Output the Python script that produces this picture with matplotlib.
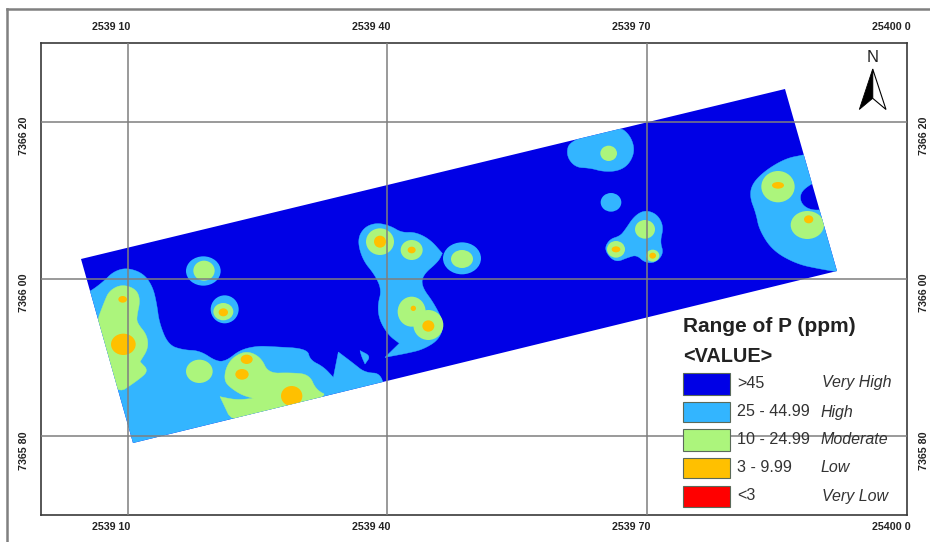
import matplotlib
matplotlib.use("Agg")
import matplotlib.pyplot as plt
from matplotlib.patches import Ellipse, Polygon, Rectangle

plt.rcParams['font.family'] = ['Liberation Sans', 'DejaVu Sans']

W, H = 930, 542
FRAME = (41, 907, 43, 515)
XLIM = (253900, 254000)
YLIM = (736570, 736630)

x_ticks = [253910, 253940, 253970, 254000]
x_tick_labels = ["2539 10", "2539 40", "2539 70", "25400 0"]
y_ticks = [736620, 736600, 736580]
y_tick_labels = ["7366 20", "7366 00", "7365 80"]

classes = [">45", "25 - 44.99", "10 - 24.99", "3 - 9.99", "<3"]
ratings = ["Very High", "High", "Moderate", "Low", "Very Low"]
colors = ["#0000E6", "#33B5FF", "#ACF57C", "#FFC000", "#FF0000"]
DARK, BLUE, GREEN, ORANGE, RED = colors

west_origin = (60, 220)
east_origin = (540, 60)
field_px = [(81, 259), (785, 89), (837, 271), (133, 443)]

west_polys = [
    (BLUE, [(60, 225), (90, 215), (130, 185), (160, 155), (200, 143), (250, 160), (278, 200), (290, 250), (298, 310),
            (325, 375), (370, 390), (420, 392), (470, 425), (500, 422), (540, 390), (590, 378), (640, 380),
            (742, 386), (750, 420), (790, 440), (820, 472), (820, 472), (835, 396), (835, 396), (880, 430),
            (915, 458), (965, 460), (975, 530), (975, 530), (170, 760), (170, 760), (70, 340)]),
    (BLUE, [(900, 392), (900, 392), (932, 408), (915, 432), (915, 432), (905, 410)]),
    (BLUE, [(892, 60), (912, 22), (950, 8), (992, 18), (1025, 38), (1065, 36), (1110, 58), (1147, 100), (1147, 100),
            (1135, 125), (1088, 165), (1085, 200), (1122, 250), (1152, 310), (1138, 358), (1090, 388),
            (1040, 400), (975, 412), (975, 412), (1018, 370), (1018, 370), (985, 345), (958, 300), (953, 255), (965, 210),
            (945, 165), (908, 120)]),
    (GREEN, [(133, 245), (148, 212), (185, 193), (228, 207), (241, 240), (230, 290), (232, 310), (261, 345),
             (265, 385), (240, 425), (240, 425), (266, 452), (235, 480), (160, 530), (105, 320)]),
    (GREEN, [(493, 482), (497, 445), (518, 412), (560, 392), (603, 412), (625, 460), (690, 458), (748, 463),
             (768, 510), (810, 530), (525, 625), (480, 530), (480, 530), (530, 540), (580, 535), (580, 535), (545, 525), (510, 502)]),
]
east_polys = [
    (BLUE, [(78, 285), (90, 240), (235, 198), (270, 225), (285, 270), (268, 312), (235, 333), (190, 335),
            (150, 324), (105, 322)]),
    (BLUE, [(255, 510), (283, 468), (315, 450), (352, 463), (371, 500), (360, 545), (371, 580), (347, 608),
            (315, 608), (290, 585), (265, 592), (225, 608), (192, 570), (208, 538), (240, 528)]),
    (BLUE, [(830, 275), (790, 285), (738, 295), (678, 330), (637, 370), (629, 410), (648, 460), (658, 510), (698, 572),
            (770, 612), (840, 627), (920, 640), (920, 640), (865, 447), (815, 452), (783, 432), (780, 398), (815, 370), (845, 362)]),
]
# colour, centre x, centre y, half-width, half-height (crop units)
west_blobs = [
    (BLUE, 430, 153, 52, 44), (BLUE, 494, 268, 42, 42), (BLUE, 1206, 115, 57, 48),
    (GREEN, 432, 152, 32, 30), (GREEN, 490, 275, 30, 26), (GREEN, 418, 454, 40, 35),
    (GREEN, 960, 65, 42, 40), (GREEN, 1055, 90, 33, 30), (GREEN, 1206, 117, 33, 27),
    (GREEN, 1055, 275, 42, 45), (GREEN, 1105, 315, 45, 45),
    (ORANGE, 190, 373, 37, 32), (ORANGE, 188, 238, 13, 10), (ORANGE, 490, 277, 14, 12),
    (ORANGE, 560, 418, 18, 14), (ORANGE, 546, 463, 20, 16), (ORANGE, 695, 528, 32, 30),
    (ORANGE, 960, 65, 18, 18), (ORANGE, 1055, 90, 12, 10), (ORANGE, 1105, 318, 18, 17),
    (ORANGE, 1060, 265, 8, 8),
]
east_blobs = [
    (BLUE, 213, 427, 31, 28),
    (GREEN, 206, 280, 25, 23), (GREEN, 315, 508, 30, 28), (GREEN, 228, 568, 27, 25), (GREEN, 338, 587, 20, 18),
    (GREEN, 714, 380, 50, 47), (GREEN, 802, 495, 50, 42),
    (ORANGE, 228, 568, 13, 9), (ORANGE, 338, 587, 10, 9), (ORANGE, 714, 376, 18, 10), (ORANGE, 806, 478, 14, 12),
]

legend_boxes = [(373, 395), (402, 422), (429, 451), (458, 478), (486, 507)]
legend_text_y = [383, 412, 440, 468, 496]
rating_x = [822, 820, 820, 820, 822]

sx = (XLIM[1] - XLIM[0]) / (FRAME[1] - FRAME[0])
sy = (YLIM[1] - YLIM[0]) / (FRAME[3] - FRAME[2])


def px2map(px, py):
    return XLIM[0] + (px - FRAME[0]) * sx, YLIM[1] - (py - FRAME[2]) * sy


def crop2map(origin, x, y):
    return px2map(origin[0] + x / 3, origin[1] + y / 3)


def rounded(pts, passes=3):
    # corner cutting, so the read outlines look like the smooth class boundaries
    for _ in range(passes):
        out = []
        for i, (x0, y0) in enumerate(pts):
            x1, y1 = pts[(i + 1) % len(pts)]
            out.append((0.75 * x0 + 0.25 * x1, 0.75 * y0 + 0.25 * y1))
            out.append((0.25 * x0 + 0.75 * x1, 0.25 * y0 + 0.75 * y1))
        pts = out
    return pts


fig = plt.figure(figsize=(W / 100, H / 100), dpi=100, facecolor="white")
ax = fig.add_axes([FRAME[0] / W, 1 - FRAME[3] / H, (FRAME[1] - FRAME[0]) / W, (FRAME[3] - FRAME[2]) / H])
ax.set_xlim(*XLIM)
ax.set_ylim(*YLIM)
ax.set_xticks([])
ax.set_yticks([])
for s in ax.spines.values():
    s.set_color("#3a3a3a")
    s.set_linewidth(1.2)

field = Polygon([px2map(*p) for p in field_px], closed=True, fc=DARK, ec="none", zorder=1)
ax.add_patch(field)

z = 2
for color in [BLUE, GREEN, ORANGE]:
    for origin, polys, blobs in [(west_origin, west_polys, west_blobs), (east_origin, east_polys, east_blobs)]:
        for c, pts in polys:
            if c == color:
                p = Polygon([crop2map(origin, *q) for q in rounded(pts)], closed=True, fc=c, ec=c, lw=0.3, zorder=z)
                ax.add_patch(p)
                p.set_clip_path(field)
        for c, cx, cy, rx, ry in blobs:
            if c == color:
                e = Ellipse(crop2map(origin, cx, cy), 2 * rx / 3 * sx, 2 * ry / 3 * sy, fc=c, ec="none", zorder=z)
                ax.add_patch(e)
                e.set_clip_path(field)
    z += 1

# graticule
for v in x_ticks[:-1]:
    ax.axvline(v, color="#7f7f7f", lw=1.1, zorder=6)
for v in y_ticks:
    ax.axhline(v, color="#7f7f7f", lw=1.1, zorder=6)


def ftext(px, py, s, **kw):
    kw.setdefault("ha", "left")
    kw.setdefault("va", "center")
    return fig.text(px / W, 1 - py / H, s, zorder=10, **kw)


# tick labels sit beside their grid lines, as on the source map
for v, lab in zip(x_ticks, x_tick_labels):
    px = FRAME[0] + (v - XLIM[0]) / sx
    for py in (27, 527):
        ftext(px - 16, py, lab, ha="center", fontsize=7.7, color="#222222", fontweight="bold")
for v, lab in zip(y_ticks, y_tick_labels):
    py = FRAME[2] + (YLIM[1] - v) / sy
    for px in (24, 924):
        ftext(px, py + 14, lab, ha="center", rotation=90, fontsize=7.7, color="#222222", fontweight="bold")

# legend
ftext(683, 327, "Range of P (ppm)", fontsize=15, fontweight="bold", color="#222222")
ftext(683, 356, "<VALUE>", fontsize=14.3, fontweight="bold", color="#222222")
for (t, b), col, lab, rat, ty, rx in zip(legend_boxes, colors, classes, ratings, legend_text_y, rating_x):
    x0, y0 = px2map(683, b)
    x1, y1 = px2map(730, t)
    ax.add_patch(Rectangle((x0, y0), x1 - x0, y1 - y0, fc=col, ec="#5a6a5a", lw=0.8, zorder=7))
    ftext(737, ty, lab, fontsize=11.6, color="#333333")
    ftext(rx, ty, rat, fontsize=11.5, style="italic", color="#333333")

# north arrow
ftext(873, 58, "N", ha="center", fontsize=12, color="#222222")
tip, left, mid, right = px2map(872.7, 69), px2map(859.3, 109.5), px2map(872.7, 98.3), px2map(886, 109.5)
ax.add_patch(Polygon([tip, mid, left], closed=True, fc="black", ec="black", lw=0.6, zorder=8))
ax.add_patch(Polygon([tip, mid, right], closed=True, fc="white", ec="black", lw=0.8, zorder=8))

# outer neatline
fig.add_artist(plt.Line2D([7 / W, 7 / W], [0, 1 - 9 / H], color="#808080", lw=1.8))
fig.add_artist(plt.Line2D([7 / W, 1], [1 - 9 / H, 1 - 9 / H], color="#808080", lw=1.8))

fig.savefig("out.png", dpi=100, facecolor="white")
